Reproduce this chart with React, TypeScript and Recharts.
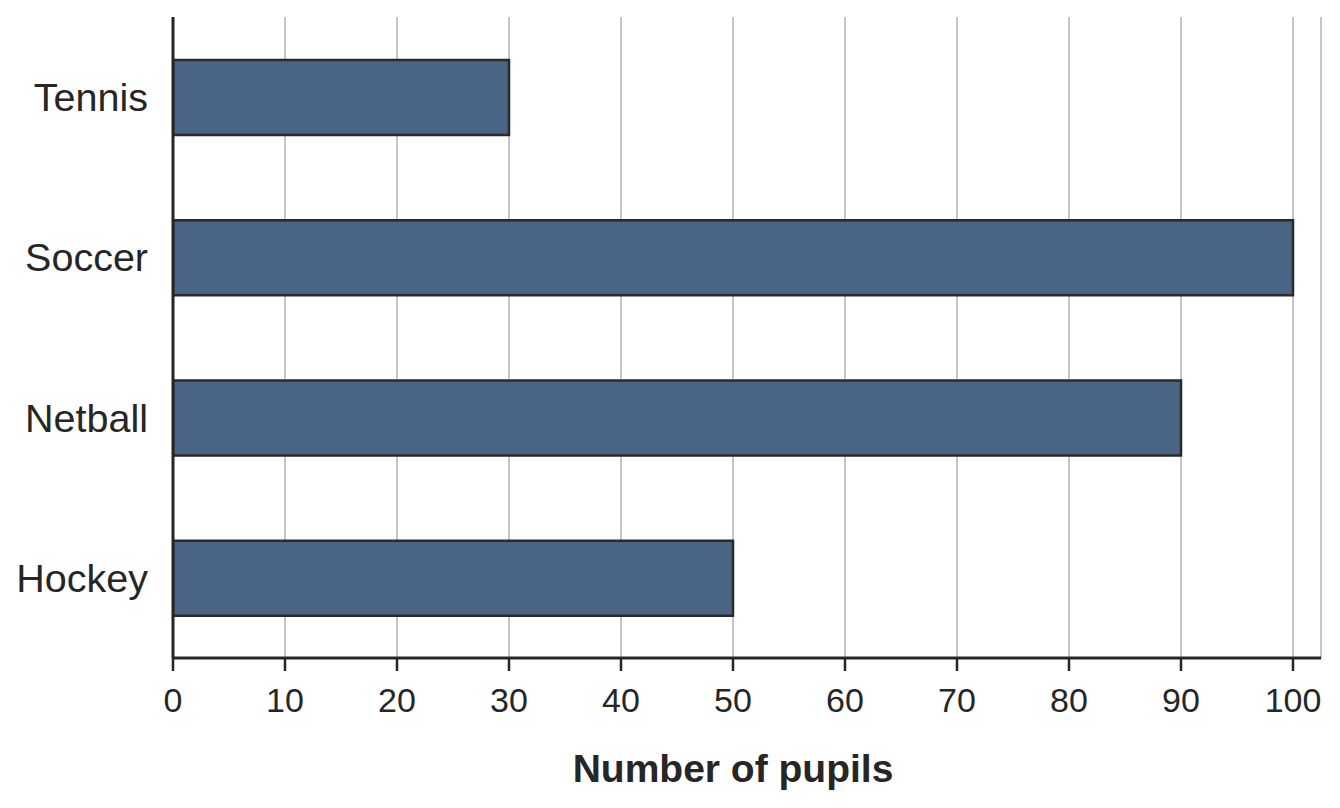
import { BarChart, Bar, XAxis, YAxis, CartesianGrid } from 'recharts'

const sports = ['Tennis', 'Soccer', 'Netball', 'Hockey']
const pupils = [30, 100, 90, 50]
const xTicks = [0, 10, 20, 30, 40, 50, 60, 70, 80, 90, 100]

const data = sports.map((sport, i) => ({ sport, pupils: pupils[i] }))

const INK = '#262626'
const FONT = '"Liberation Sans", Arial, sans-serif'
const X_MAX = 102.5

function TitleLabel({ viewBox }: any) {
  const { x, y, width, height } = viewBox
  // centred on the 0..100 span, not the whole axis
  const cx = x + (width * (100 / X_MAX)) / 2
  return (
    <text
      x={cx}
      y={y + height - 26}
      textAnchor="middle"
      fill={INK}
      fontSize={39}
      fontWeight="bold"
      fontFamily={FONT}
    >
      Number of pupils
    </text>
  )
}

export default function App() {
  return (
    <div style={{ width: 1332, height: 800 }}>
      <BarChart
        width={1332}
        height={800}
        data={data}
        layout="vertical"
        margin={{ top: 9, right: 19, bottom: 0, left: 0 }}
        barSize={75}
      >
        <CartesianGrid horizontal={false} stroke="#c6c6c6" strokeWidth={2} />
        <XAxis
          type="number"
          domain={[0, X_MAX]}
          ticks={xTicks}
          interval={0}
          allowDataOverflow
          height={150}
          tickSize={13}
          tickMargin={17}
          axisLine={{ stroke: INK, strokeWidth: 3 }}
          tickLine={{ stroke: INK, strokeWidth: 2.5 }}
          tick={{ fill: INK, fontSize: 34, fontFamily: FONT }}
          label={<TitleLabel />}
        />
        <YAxis
          type="category"
          dataKey="sport"
          width={165}
          tickSize={0}
          tickMargin={25}
          tickLine={false}
          axisLine={{ stroke: INK, strokeWidth: 3 }}
          tick={{ fill: INK, fontSize: 39.5, fontFamily: FONT }}
        />
        <Bar
          dataKey="pupils"
          fill="#4a6486"
          stroke="#2a2a2a"
          strokeWidth={2.5}
          isAnimationActive={false}
        />
      </BarChart>
    </div>
  )
}
